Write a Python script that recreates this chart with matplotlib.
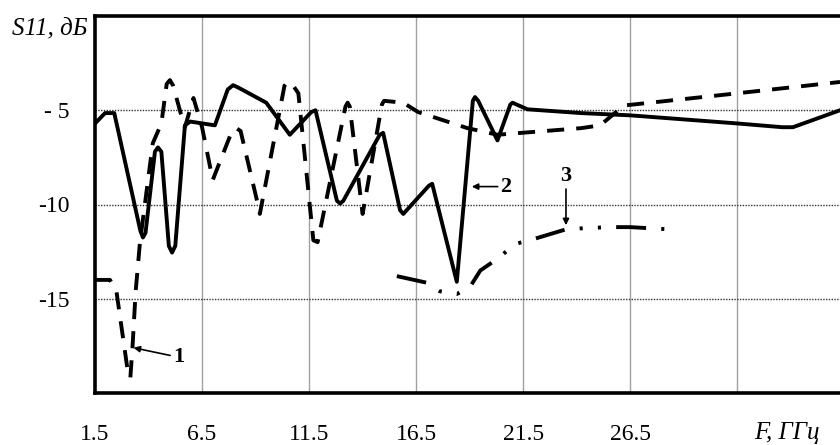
import matplotlib
matplotlib.use("Agg")
import matplotlib.pyplot as plt

plt.rcParams['font.family'] = ['Liberation Serif', 'DejaVu Serif']

# curve 1 (dashed)
f1 = [1.5, 2.2, 2.5, 3.05, 3.15, 3.25, 3.4, 3.6, 4.2, 4.6, 4.85, 5.0, 5.15, 5.5, 5.7, 6.1, 6.5, 7.0,
      7.9, 8.1, 8.3, 9.1, 9.2, 10.35, 10.5, 10.7, 11.0, 11.7, 11.9, 13.2, 13.3, 13.4, 14.0, 14.9,
      15.0, 15.9, 16.6, 18.9, 20.3, 24.2, 25.1, 26.2, 30.7, 36.3]
s1 = [-14.0, -14.0, -14.6, -19.0, -19.2, -17.6, -14.6, -12.0, -6.75, -5.7, -3.6, -3.4, -3.7, -5.15,
      -5.9, -4.35, -5.9, -8.7, -6.1, -5.95, -6.1, -9.95, -10.5, -3.7, -3.5, -3.6, -4.1, -11.9,
      -12.0, -4.8, -4.6, -4.8, -10.5, -4.7, -4.5, -4.6, -5.1, -5.95, -6.3, -5.95, -5.8, -4.75,
      -4.2, -3.5]

# curve 2 (solid)
f2 = [1.5, 1.97, 2.4, 3.62, 3.74, 3.86, 4.3, 4.44, 4.6, 4.95, 5.1, 5.25, 5.7, 5.95, 7.1, 7.7, 7.95,
      8.2, 9.5, 10.6, 11.6, 11.8, 12.8, 12.95, 13.1, 14.8, 14.96, 15.75, 15.9, 17.1, 17.25, 18.4,
      19.15, 19.25, 19.4, 20.3, 20.9, 21.0, 21.7, 24.2, 26.5, 31.5, 33.6, 34.1, 36.3]
s2 = [-5.7, -5.15, -5.15, -11.4, -11.75, -11.5, -7.2, -6.97, -7.2, -12.2, -12.55, -12.2, -5.8, -5.6,
      -5.8, -3.9, -3.67, -3.8, -4.6, -6.3, -5.1, -5.0, -9.8, -9.95, -9.8, -6.3, -6.2, -10.3, -10.5,
      -9.0, -8.9, -14.1, -4.5, -4.3, -4.5, -6.6, -4.7, -4.6, -4.95, -5.15, -5.27, -5.7, -5.9, -5.9,
      -5.0]

# curve 3 (dash-dot-dot)
f3 = [15.6, 17.0, 17.6, 18.4, 19.0, 19.5, 20.4, 21.1, 21.8, 23.55, 25.5, 26.5, 28.5]
s3 = [-13.8, -14.15, -14.6, -14.75, -14.4, -13.5, -12.8, -12.1, -11.9, -11.3, -11.2, -11.2, -11.33]

xticks = [1.5, 6.5, 11.5, 16.5, 21.5, 26.5]
xtick_labels = ['1.5', '6.5', '11.5', '16.5', '21.5', '26.5']
vgrid = [6.5, 11.5, 16.5, 21.5, 26.5, 31.5]
yticks = [-5, -10, -15]
ytick_labels = ['- 5', '-10', '-15']

fig = plt.figure(figsize=(8.4, 4.45), dpi=100)
ax = fig.add_axes([95 / 840, 1 - 393 / 445, 1 - 95 / 840, (393 - 16) / 445])

for x in vgrid:
    ax.axvline(x, color='#a0a0a0', lw=1.0, zorder=1)
for y in yticks:
    ax.axhline(y, color='#333333', lw=1.0, ls=(0, (1, 1)), zorder=1)

lw = 2.8
ax.plot(f1, s1, color='black', lw=lw, dashes=(4.4, 3.1), zorder=3)
ax.plot(f2, s2, color='black', lw=lw, zorder=3)
ax.plot(f3, s3, color='black', lw=lw, dashes=(7.7, 3.9, 0.8, 3.9, 0.8, 3.9), zorder=3)

arrow = dict(arrowstyle='-|>', color='black', lw=1.2, mutation_scale=9, shrinkA=0, shrinkB=0)
ax.annotate('1', xy=(3.3, -17.6), xytext=(5.4, -18.1), fontsize=16, fontweight='bold',
            ha='center', va='center', arrowprops=arrow)
ax.annotate('2', xy=(19.1, -9.05), xytext=(20.7, -9.05), fontsize=16, fontweight='bold',
            ha='center', va='center', arrowprops=arrow)
ax.annotate('3', xy=(23.5, -11.1), xytext=(23.5, -8.5), fontsize=16, fontweight='bold',
            ha='center', va='center', arrowprops=arrow)

ax.set_xlim(1.5, 36.3)
ax.set_ylim(-20, 0)
ax.set_xticks(xticks)
ax.set_xticklabels(xtick_labels, fontsize=17)
ax.set_yticks(yticks)
ax.set_yticklabels(ytick_labels, fontsize=17)
ax.tick_params(axis='both', length=0)
ax.tick_params(axis='x', pad=22)
ax.tick_params(axis='y', pad=18)

for side in ['left', 'top', 'bottom']:
    ax.spines[side].set_linewidth(2.6)
ax.spines['right'].set_visible(False)

ax.text(33.8, -22.1, 'F, ГГц', fontsize=18, style='italic', ha='center', va='center',
        clip_on=False)
fig.text(88 / 840, 1 - 28 / 445, 'S11, дБ', fontsize=18, style='italic', ha='right', va='center')

fig.savefig('out.png', dpi=100)
